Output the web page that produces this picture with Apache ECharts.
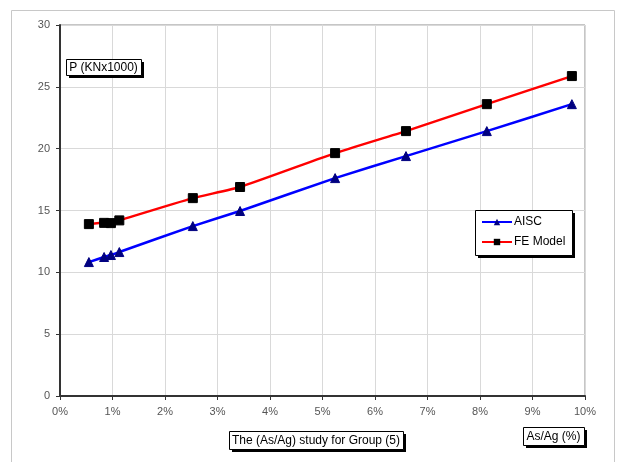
<!DOCTYPE html>
<html>
<head>
<meta charset="utf-8">
<script src="https://cdn.jsdelivr.net/npm/echarts@6/dist/echarts.min.js"></script>
<style>
html,body{margin:0;padding:0;background:#fff;}
#c{width:618px;height:462px;}
</style>
</head>
<body>
<div id="c"></div>
<script>
// As/Ag ratio (%) for each specimen
var asAgPct = [0.55, 0.84, 0.97, 1.13, 2.53, 3.43, 5.24, 6.59, 8.13, 9.75];
// Load P (KN x 1000)
var aiscValues = [10.83, 11.24, 11.40, 11.64, 13.74, 14.96, 17.62, 19.40, 21.42, 23.60];
var feValues   = [13.90, 14.00, 13.98, 14.20, 16.00, 16.90, 19.64, 21.42, 23.60, 25.87];
var seriesNames = ['AISC', 'FE Model'];
var yTicks = [0, 5, 10, 15, 20, 25, 30];
var xTicks = [0, 1, 2, 3, 4, 5, 6, 7, 8, 9, 10];

function pairs(xs, ys) { return xs.map(function (x, i) { return [x, ys[i]]; }); }

var FONT = '"Liberation Sans", Arial, sans-serif';

function shadowBox(x, y, w, h, text, z) {
  var els = [
    { type: 'rect', z: z, shape: { x: x + 3, y: y + 3, width: w, height: h }, style: { fill: '#000' } },
    { type: 'rect', z: z + 0.5, shape: { x: x + 0.5, y: y + 0.5, width: w, height: h }, style: { fill: '#fff', stroke: '#000', lineWidth: 1 } }
  ];
  if (text) {
    els.push({ type: 'text', z: z + 1, x: x + w / 2, y: y + h / 2 + 1, style: { text: text, fill: '#000', font: '12px ' + FONT, align: 'center', verticalAlign: 'middle' } });
  }
  return els;
}

var graphics = [
  { type: 'rect', z: -10, shape: { x: 11.5, y: 10.5, width: 603, height: 470 }, style: { fill: 'none', stroke: '#c8c8c8', lineWidth: 1 } }
].concat(
  shadowBox(475, 210, 97, 45, '', 3),
  shadowBox(66, 59, 75, 16, 'P (KNx1000)', 10),
  shadowBox(229, 431, 174, 18, 'The (As/Ag) study for Group (5)', 10),
  shadowBox(523, 427, 61, 18, 'As/Ag (%)', 10)
);

var chart = echarts.init(document.getElementById('c'), null, { renderer: 'canvas' });
chart.setOption({
  animation: false,
  backgroundColor: '#fff',
  textStyle: { fontFamily: FONT },
  grid: { left: 60, right: 33, top: 25, bottom: 66, show: true, borderColor: '#8c8c8c', borderWidth: 1, backgroundColor: '#fff' },
  xAxis: {
    type: 'value', min: xTicks[0], max: xTicks[xTicks.length - 1], interval: 1,
    axisLine: { show: true, onZero: false, lineStyle: { color: '#333', width: 2 } },
    axisTick: { show: true, inside: false, length: 4, lineStyle: { color: '#333', width: 1 } },
    axisLabel: { color: '#555', fontSize: 11, margin: 10, formatter: '{value}%' },
    splitLine: { show: true, lineStyle: { color: '#d9d9d9', width: 1 } }
  },
  yAxis: {
    type: 'value', min: yTicks[0], max: yTicks[yTicks.length - 1], interval: 5,
    axisLine: { show: true, onZero: false, lineStyle: { color: '#333', width: 2 } },
    axisTick: { show: true, inside: false, length: 4, lineStyle: { color: '#333', width: 1 } },
    axisLabel: { color: '#555', fontSize: 11, margin: 10 },
    splitLine: { show: true, lineStyle: { color: '#d9d9d9', width: 1 } }
  },
  legend: {
    orient: 'vertical', left: 481, top: 216,
    padding: 0, itemGap: 8,
    itemWidth: 30, itemHeight: 8,
    backgroundColor: 'transparent', borderWidth: 0,
    textStyle: { color: '#000', fontSize: 12, fontFamily: FONT, padding: [0, 0, 0, -3] },
    data: seriesNames
  },
  graphic: graphics,
  series: [
    {
      name: seriesNames[0], type: 'line', data: pairs(asAgPct, aiscValues),
      smooth: 0.15, symbol: 'triangle', symbolSize: 9,
      lineStyle: { color: '#0000ff', width: 2.5 },
      itemStyle: { color: '#000080', borderColor: '#000080' }
    },
    {
      name: seriesNames[1], type: 'line', data: pairs(asAgPct, feValues),
      smooth: 0.15, symbol: 'rect', symbolSize: 9,
      lineStyle: { color: '#ff0000', width: 2.5 },
      itemStyle: { color: '#000', borderColor: '#000' }
    }
  ]
});
</script>
</body>
</html>
